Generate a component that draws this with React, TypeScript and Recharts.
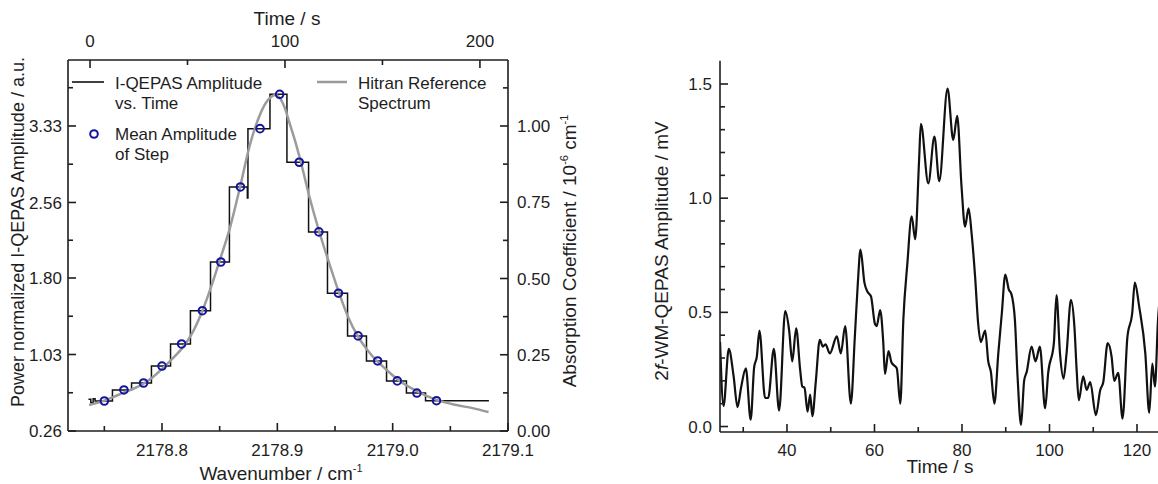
import React from 'react'
import { ComposedChart, LineChart, Line, Scatter, XAxis, YAxis } from 'recharts'

const FONT = '"Liberation Sans", Arial, sans-serif'
const INK = '#1e1e1e'

// ---- left panel: I-QEPAS step trace vs. time (top axis) ----
const stepTime = [-0.8, 0.4, 1.6, 2.6, 11.5, 21.3, 31.5, 41.3, 51.5, 61.8, 71.5, 80.7, 81.0, 92.3, 101.0, 112.1, 121.8, 132.1, 141.8, 152.1, 162.3, 172.1, 204.6]
const stepAmp = [0.58, 0.545, 0.585, 0.562, 0.673, 0.743, 0.914, 1.136, 1.471, 1.961, 2.716, 2.605, 3.303, 3.649, 2.965, 2.264, 1.647, 1.217, 0.965, 0.764, 0.642, 0.565, 0.565]

// mean amplitude of each step vs. wavenumber
const meanWn = [2178.750, 2178.767, 2178.784, 2178.800, 2178.817, 2178.835, 2178.851, 2178.868, 2178.885, 2178.902, 2178.919, 2178.936, 2178.953, 2178.970, 2178.987, 2179.004, 2179.021, 2179.038]
const meanAmp = [0.562, 0.673, 0.743, 0.914, 1.136, 1.471, 1.961, 2.716, 3.303, 3.649, 2.965, 2.264, 1.647, 1.217, 0.965, 0.764, 0.642, 0.565]

// Hitran reference spectrum (absorption coefficient, 1e-6 cm-1)
const hitranWn = [2178.7368, 2178.7489, 2178.7576, 2178.7662, 2178.7749, 2178.7835, 2178.7922, 2178.8009, 2178.8095, 2178.8182, 2178.8268, 2178.8346, 2178.8416, 2178.8502, 2178.8589, 2178.8675, 2178.8762, 2178.8848, 2178.8918, 2178.8987, 2178.9022, 2178.9065, 2178.9108, 2178.9152, 2178.9195, 2178.9281, 2178.9359, 2178.9455, 2178.9532, 2178.9610, 2178.9697, 2178.9801, 2178.9948, 2179.0061, 2179.0208, 2179.0381, 2179.0554, 2179.0693, 2179.0831]
const hitranAbs = [0.085, 0.098, 0.111, 0.125, 0.138, 0.154, 0.177, 0.207, 0.239, 0.275, 0.325, 0.390, 0.462, 0.561, 0.666, 0.797, 0.938, 1.036, 1.085, 1.102, 1.092, 1.059, 1.007, 0.954, 0.895, 0.764, 0.659, 0.544, 0.456, 0.377, 0.311, 0.256, 0.200, 0.164, 0.131, 0.102, 0.085, 0.075, 0.062]

// ---- right panel: 2f-WM-QEPAS amplitude vs. time ----
const wmTime = [24.7, 25.5, 26.7, 27.8, 28.7, 29.5, 30.6, 31.7, 32.5, 33.1, 33.7, 35.0, 35.7, 37.0, 38.2, 39.6, 40.5, 41.2, 42.1, 43.0, 43.5, 44.0, 44.7, 45.3, 45.8, 46.6, 47.5, 48.2, 48.8, 49.8, 51.4, 52.3, 53.3, 54.6, 55.5, 56.2, 56.8, 57.7, 58.4, 59.2, 60.1, 60.5, 61.3, 62.0, 62.4, 63.2, 63.9, 65.1, 65.9, 66.6, 67.5, 68.5, 69.3, 70.2, 70.6, 72.3, 73.7, 74.8, 76.7, 78.0, 78.9, 79.9, 80.7, 81.5, 82.2, 83.0, 83.7, 84.3, 85.3, 86.0, 86.6, 87.4, 88.3, 89.1, 89.9, 90.7, 91.3, 92.1, 92.7, 93.5, 94.2, 94.8, 95.9, 96.8, 97.8, 99.0, 99.7, 101.0, 101.6, 102.4, 103.2, 103.9, 104.9, 105.7, 106.2, 106.7, 107.7, 108.5, 109.3, 110.6, 111.6, 112.3, 113.3, 114.2, 114.8, 115.7, 116.7, 117.8, 118.9, 119.5, 120.5, 121.9, 122.8, 123.5, 124.1, 124.8, 125.4]
const wmAmp = [0.37, 0.09, 0.34, 0.22, 0.085, 0.17, 0.255, 0.03, 0.26, 0.305, 0.42, 0.125, 0.125, 0.34, 0.07, 0.505, 0.42, 0.285, 0.43, 0.25, 0.175, 0.17, 0.065, 0.14, 0.045, 0.2, 0.38, 0.35, 0.36, 0.32, 0.395, 0.32, 0.44, 0.10, 0.39, 0.63, 0.775, 0.63, 0.59, 0.57, 0.45, 0.44, 0.51, 0.37, 0.23, 0.33, 0.28, 0.255, 0.10, 0.47, 0.71, 0.92, 0.82, 1.17, 1.325, 1.065, 1.27, 1.075, 1.48, 1.255, 1.36, 1.05, 0.875, 0.955, 0.845, 0.655, 0.45, 0.37, 0.42, 0.285, 0.24, 0.10, 0.32, 0.495, 0.665, 0.6, 0.58, 0.465, 0.22, 0.007, 0.2, 0.24, 0.35, 0.285, 0.35, 0.08, 0.235, 0.365, 0.575, 0.32, 0.21, 0.32, 0.555, 0.435, 0.25, 0.115, 0.22, 0.16, 0.195, 0.05, 0.16, 0.195, 0.365, 0.305, 0.2, 0.235, 0.035, 0.39, 0.495, 0.63, 0.525, 0.32, 0.06, 0.275, 0.175, 0.465, 0.6]

// ---- ticks ----
const wnMajor = [2178.8, 2178.9, 2179.0, 2179.1]
const wnLabels = ['2178.8', '2178.9', '2179.0', '2179.1']
const wnMinor = [2178.75, 2178.85, 2178.95, 2179.05]
const timeMajor = [0, 100, 200]
const timeLabels = ['0', '100', '200']
const timeMinor = [50, 150]
const ampMajor = [0.26, 1.03, 1.80, 2.56, 3.33]
const ampLabels = ['0.26', '1.03', '1.80', '2.56', '3.33']
const ampMinor = [0.645, 1.415, 2.18, 2.945, 3.715]
const absMajor = [0, 0.25, 0.5, 0.75, 1.0]
const absLabels = ['0.00', '0.25', '0.50', '0.75', '1.00']
const absMinor = [0.125, 0.375, 0.625, 0.875, 1.125]
const wmTimeMajor = [40, 60, 80, 100, 120]
const wmTimeLabels = ['40', '60', '80', '100', '120']
const wmTimeMinor = [30, 50, 70, 90, 110, 130]
const wmAmpMajor = [0, 0.5, 1.0, 1.5]
const wmAmpLabels = ['0.0', '0.5', '1.0', '1.5']
const wmAmpMinor = [0.1, 0.2, 0.3, 0.4, 0.6, 0.7, 0.8, 0.9, 1.1, 1.2, 1.3, 1.4]

const stepData = stepTime.map((t, i) => ({ t, v: stepAmp[i] }))
const meanData = meanWn.map((w, i) => ({ w, v: meanAmp[i] }))
const hitranData = hitranWn.map((w, i) => ({ w, a: hitranAbs[i] }))
const wmData = wmTime.map((t, i) => ({ t, v: wmAmp[i] }))

const MAJOR_LEN = 8
const MINOR_LEN = 5
const TICK_FONT = 17

// ticks drawn inward, labels outside; minor ticks have no label
function makeTick(side: 'left' | 'right' | 'top' | 'bottom', major: number[], labels: string[], gap: number) {
  return (props: any) => {
    const { x, y, payload } = props
    const i = major.findIndex((m) => Math.abs(m - payload.value) < 1e-9)
    const len = i >= 0 ? MAJOR_LEN : MINOR_LEN
    const txt = { fontFamily: FONT, fontSize: TICK_FONT, fill: INK }
    let line = null
    let label = null
    if (side === 'left') {
      line = <line x1={x + gap} x2={x + gap + len} y1={y} y2={y} stroke={INK} strokeWidth={1.6} />
      if (i >= 0) label = <text x={x} y={y} dy="0.36em" textAnchor="end" {...txt}>{labels[i]}</text>
    } else if (side === 'right') {
      line = <line x1={x - gap} x2={x - gap - len} y1={y} y2={y} stroke={INK} strokeWidth={1.6} />
      if (i >= 0) label = <text x={x} y={y} dy="0.36em" textAnchor="start" {...txt}>{labels[i]}</text>
    } else if (side === 'bottom') {
      line = <line x1={x} x2={x} y1={y - gap} y2={y - gap - len} stroke={INK} strokeWidth={1.6} />
      if (i >= 0) label = <text x={x} y={y} textAnchor="middle" {...txt}>{labels[i]}</text>
    } else {
      line = <line x1={x} x2={x} y1={y + gap} y2={y + gap + len} stroke={INK} strokeWidth={1.6} />
      if (i >= 0) label = <text x={x} y={y} textAnchor="middle" {...txt}>{labels[i]}</text>
    }
    return (
      <g>
        {line}
        {label}
      </g>
    )
  }
}

const axisLine = { stroke: INK, strokeWidth: 1.6 }

function LeftPanel() {
  return (
    <ComposedChart width={560} height={484} margin={{ top: 30, right: 8, bottom: 23, left: 8 }}>
      <XAxis xAxisId="wn" dataKey="w" type="number" orientation="bottom" height={30}
        domain={[2178.7185, 2179.1]} allowDataOverflow ticks={[...wnMajor, ...wnMinor]} interval={0}
        tickSize={0} tickMargin={25} tickLine={false} axisLine={axisLine}
        tick={makeTick('bottom', wnMajor, wnLabels, 25)} />
      <XAxis xAxisId="time" dataKey="t" type="number" orientation="top" height={30}
        domain={[-11.3, 214.4]} allowDataOverflow ticks={[...timeMajor, ...timeMinor]} interval={0}
        tickSize={0} tickMargin={13} tickLine={false} axisLine={axisLine}
        tick={makeTick('top', timeMajor, timeLabels, 13)} />
      <YAxis yAxisId="amp" type="number" orientation="left" width={60}
        domain={[0.26, 3.994]} allowDataOverflow ticks={[...ampMajor, ...ampMinor]} interval={0}
        tickSize={0} tickMargin={6} tickLine={false} axisLine={axisLine}
        tick={makeTick('left', ampMajor, ampLabels, 6)} />
      <YAxis yAxisId="abs" type="number" orientation="right" width={44}
        domain={[0, 1.2164]} allowDataOverflow ticks={[...absMajor, ...absMinor]} interval={0}
        tickSize={0} tickMargin={9} tickLine={false} axisLine={axisLine}
        tick={makeTick('right', absMajor, absLabels, 9)} />
      <Line xAxisId="time" yAxisId="amp" data={stepData} dataKey="v" type="stepAfter"
        stroke="#111111" strokeWidth={1.5} dot={false} isAnimationActive={false} />
      <Line xAxisId="wn" yAxisId="abs" data={hitranData} dataKey="a" type="monotone"
        stroke="#9b9b9b" strokeWidth={2.5} dot={false} isAnimationActive={false} />
      <Scatter xAxisId="wn" yAxisId="amp" data={meanData} dataKey="v" isAnimationActive={false}
        shape={(p: any) => <circle cx={p.cx} cy={p.cy} r={3.8} fill="none" stroke="#14149c" strokeWidth={2} />} />
    </ComposedChart>
  )
}

function RightPanel() {
  return (
    <LineChart width={620} height={484} margin={{ top: 60.7, right: 20, bottom: 22, left: 60 }}>
      <XAxis xAxisId="b" dataKey="t" type="number" orientation="bottom" height={30}
        domain={[24.69, 134.4]} allowDataOverflow ticks={[...wmTimeMajor, ...wmTimeMinor]} interval={0}
        tickSize={0} tickMargin={24} tickLine={false} axisLine={axisLine}
        tick={makeTick('bottom', wmTimeMajor, wmTimeLabels, 24)} />
      <XAxis xAxisId="top" dataKey="t" type="number" orientation="top" height={0}
        domain={[24.69, 134.4]} allowDataOverflow tick={false} tickLine={false} axisLine={axisLine} />
      <YAxis type="number" orientation="left" width={60}
        domain={[-0.024, 1.602]} allowDataOverflow ticks={[...wmAmpMajor, ...wmAmpMinor]} interval={0}
        tickSize={0} tickMargin={8} tickLine={false} axisLine={axisLine}
        tick={makeTick('left', wmAmpMajor, wmAmpLabels, 8)} />
      <Line xAxisId="b" data={wmData} dataKey="v" type="monotone"
        stroke="#111111" strokeWidth={2.2} dot={false} isAnimationActive={false} />
    </LineChart>
  )
}

function Overlay() {
  const t = { fontFamily: FONT, fill: INK }
  return (
    <svg width={1158} height={484} style={{ position: 'absolute', left: 0, top: 0, pointerEvents: 'none' }}>
      {/* axis titles */}
      <text x={287} y={25} textAnchor="middle" fontSize={19} {...t}>Time / s</text>
      <text x={281} y={480} textAnchor="middle" fontSize={19} {...t}>
        Wavenumber / cm<tspan dy={-8} fontSize={11}>-1</tspan>
      </text>
      <text transform="translate(24,232) rotate(-90)" textAnchor="middle" fontSize={18} {...t}>
        Power normalized I-QEPAS Amplitude / a.u.
      </text>
      <text transform="translate(576,251) rotate(-90)" textAnchor="middle" fontSize={19} {...t}>
        Absorption Coefficient / 10<tspan dy={-8} fontSize={11}>-6</tspan>
        <tspan dy={8} fontSize={19}> cm</tspan>
        <tspan dy={-8} fontSize={11}>-1</tspan>
      </text>
      <text x={940} y={473} textAnchor="middle" fontSize={19} {...t}>Time / s</text>
      <text transform="translate(668,251) rotate(-90)" textAnchor="middle" fontSize={19} {...t}>
        2<tspan fontStyle="italic">f</tspan>-WM-QEPAS Amplitude / mV
      </text>

      {/* legend */}
      <line x1={72} x2={104} y1={82} y2={82} stroke="#111111" strokeWidth={1.6} />
      <text x={115} y={89} fontSize={17} {...t}>I-QEPAS Amplitude</text>
      <text x={115} y={109} fontSize={17} {...t}>vs. Time</text>
      <circle cx={94} cy={134} r={3.8} fill="none" stroke="#14149c" strokeWidth={2} />
      <text x={115} y={140} fontSize={17} {...t}>Mean Amplitude</text>
      <text x={115} y={160} fontSize={17} {...t}>of Step</text>
      <line x1={317} x2={347} y1={82} y2={82} stroke="#9b9b9b" strokeWidth={2.5} />
      <text x={358} y={89} fontSize={17} {...t}>Hitran Reference</text>
      <text x={358} y={109} fontSize={17} {...t}>Spectrum</text>
    </svg>
  )
}

export default function App() {
  return (
    <div style={{ position: 'fixed', left: 0, top: 0, width: 1158, height: 484, overflow: 'hidden', background: '#fff' }}>
      <div style={{ position: 'absolute', left: 0, top: 0 }}>
        <LeftPanel />
      </div>
      <div style={{ position: 'absolute', left: 600, top: 0 }}>
        <RightPanel />
      </div>
      <Overlay />
    </div>
  )
}
